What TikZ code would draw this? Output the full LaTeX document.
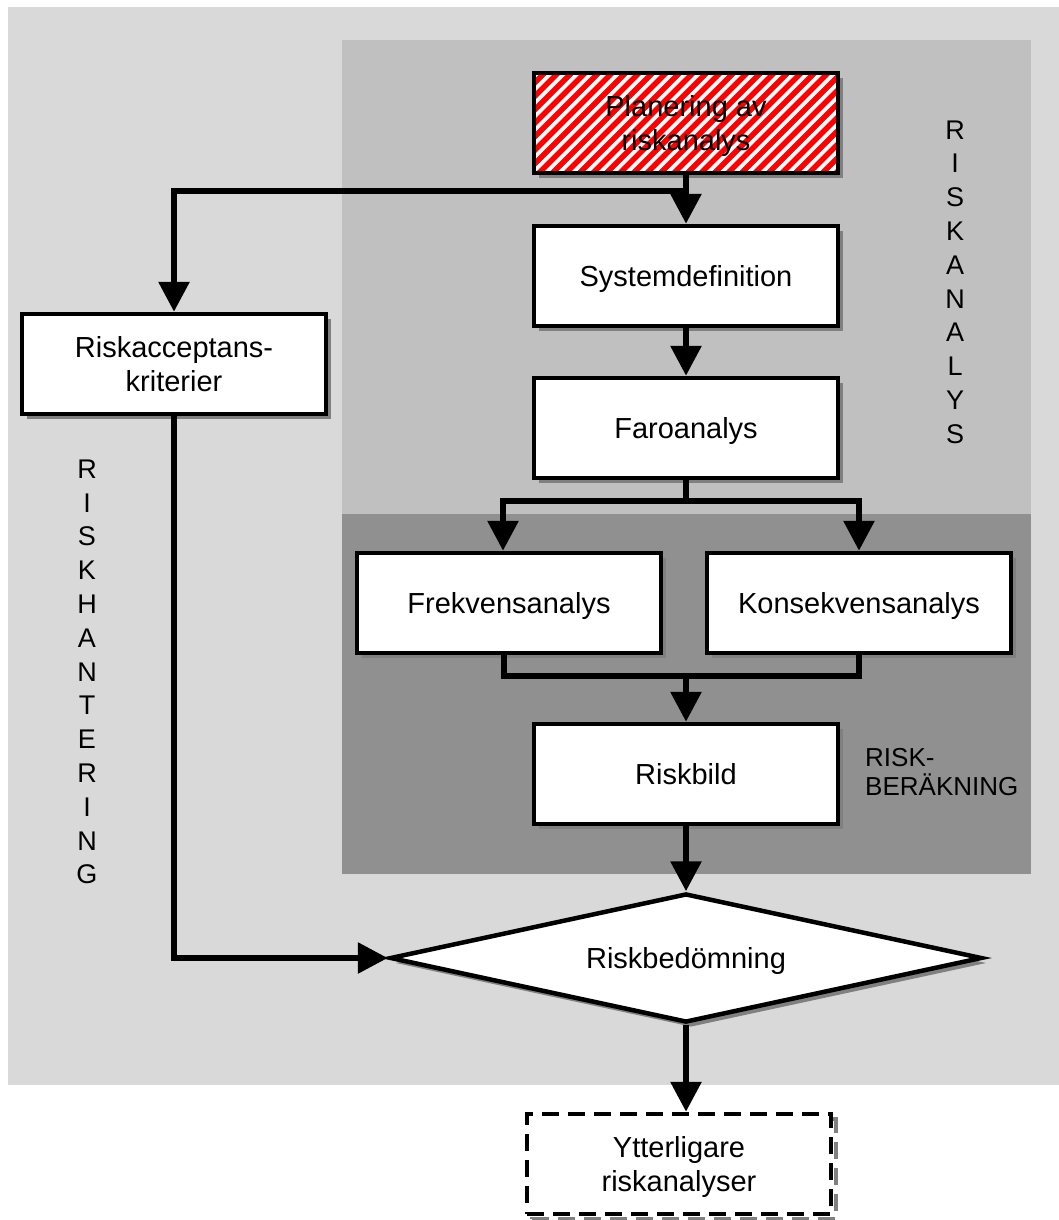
\documentclass[tikz,border=0pt]{standalone}
\usepackage{fontspec}
\setmainfont{Liberation Sans}
\usetikzlibrary{arrows.meta,shapes.geometric,shadows,calc}

\definecolor{outerbg}{HTML}{D9D9D9}
\definecolor{analysbg}{HTML}{C0C0C0}
\definecolor{berakbg}{HTML}{909090}
\definecolor{shadowgray}{HTML}{808080}
\definecolor{hatchred}{HTML}{FF0000}

\tikzset{
  boxtxt/.style={font=\fontsize{29}{34}\selectfont, text depth=0pt},
  boxshadow/.style={general shadow={fill=shadowgray, shadow xshift=5pt, shadow yshift=-5pt}},
  stepbox/.style={draw, line width=4.5pt, fill=white, minimum width=304pt,
    minimum height=100pt, inner sep=0pt, align=center, boxtxt, boxshadow},
  hatched/.style={path picture={
      \foreach \k in {0,...,34}
        \draw[hatchred, line width=5.6pt]
          ($(path picture bounding box.south west)+(\k*13.5-140,10)$) -- ++(160,-160);
    }},
  conn/.style={line width=6pt},
  arr/.style={conn, -{Triangle[length=30pt,width=30pt]}},
  vlabel/.style={font=\fontsize{27}{33.8}\selectfont, align=center, inner sep=0pt},
}

\begin{document}
\begin{tikzpicture}[x=1pt,y=-1pt]
  \useasboundingbox (0,0) rectangle (1059,1220);

  % background panels
  \fill[outerbg] (8,7) rectangle (1059,1085);
  \fill[analysbg] (342,40) rectangle (1031,514);
  \fill[berakbg] (342,514) rectangle (1031,874);

  % process boxes
  \node[stepbox, hatched] (plan) at (686,123) {Planering av\\riskanalys};
  \node[stepbox] (sys)  at (686,276) {Systemdefinition};
  \node[stepbox] (faro) at (686,428) {Faroanalys};
  \node[stepbox] (frek) at (509,603) {Frekvensanalys};
  \node[stepbox] (kons) at (859,603) {Konsekvensanalys};
  \node[stepbox] (bild) at (686,774) {Riskbild};
  \node[stepbox] (acc)  at (174,364) {Riskacceptans-\\kriterier};
  \node[diamond, aspect=4.6, draw, line width=4.5pt, fill=white, minimum width=592pt,
        minimum height=129pt, inner sep=0pt, boxtxt, boxshadow] (bed) at (686,958) {Riskbedömning};
  \node[draw, line width=4.5pt, dash pattern=on 17pt off 9pt, fill=white,
        minimum width=304pt, minimum height=100pt, inner sep=0pt, align=center, boxtxt,
        general shadow={draw=shadowgray, line width=4.5pt, dash pattern=on 17pt off 9pt,
          shadow xshift=5pt, shadow yshift=-5pt}] (ytt) at (679,1164) {Ytterligare\\riskanalyser};

  % side labels
  \node[vlabel] (lblanalys) at (955,282) {R\\I\\S\\K\\A\\N\\A\\L\\Y\\S};
  \node[vlabel] (lblhant) at (87,672) {R\\I\\S\\K\\H\\A\\N\\T\\E\\R\\I\\N\\G};
  \node[anchor=north west, align=left, inner sep=0pt,
        font=\fontsize{26}{29}\selectfont] (lblberak) at (865,748) {RISK-\\BERÄKNING};

  % connectors
  \coordinate (jtop) at (686,191);
  \coordinate (fsplit) at (686,501);
  \coordinate (fjoin) at (686,676);

  \draw[arr] (plan.south) -- (sys.north);
  \draw[arr] (jtop) -| (acc.north);
  \draw[arr] (sys.south) -- (faro.north);
  \draw[conn] (faro.south) -- (fsplit);
  \draw[arr] (fsplit) -| ([xshift=-6pt]frek.north);
  \draw[arr] (fsplit) -| (kons.north);
  \draw[conn] ([xshift=-5pt]frek.south) -- ([xshift=-5pt]frek.south |- fjoin) -| (kons.south);
  \draw[arr] (fjoin) -- (bild.north);
  \draw[arr] (bild.south) -- (bed.north);
  \draw[arr] (acc.south) |- (bed.west);
  \draw[arr] (bed.south) -- (bed.south |- ytt.north);
\end{tikzpicture}
\end{document}
